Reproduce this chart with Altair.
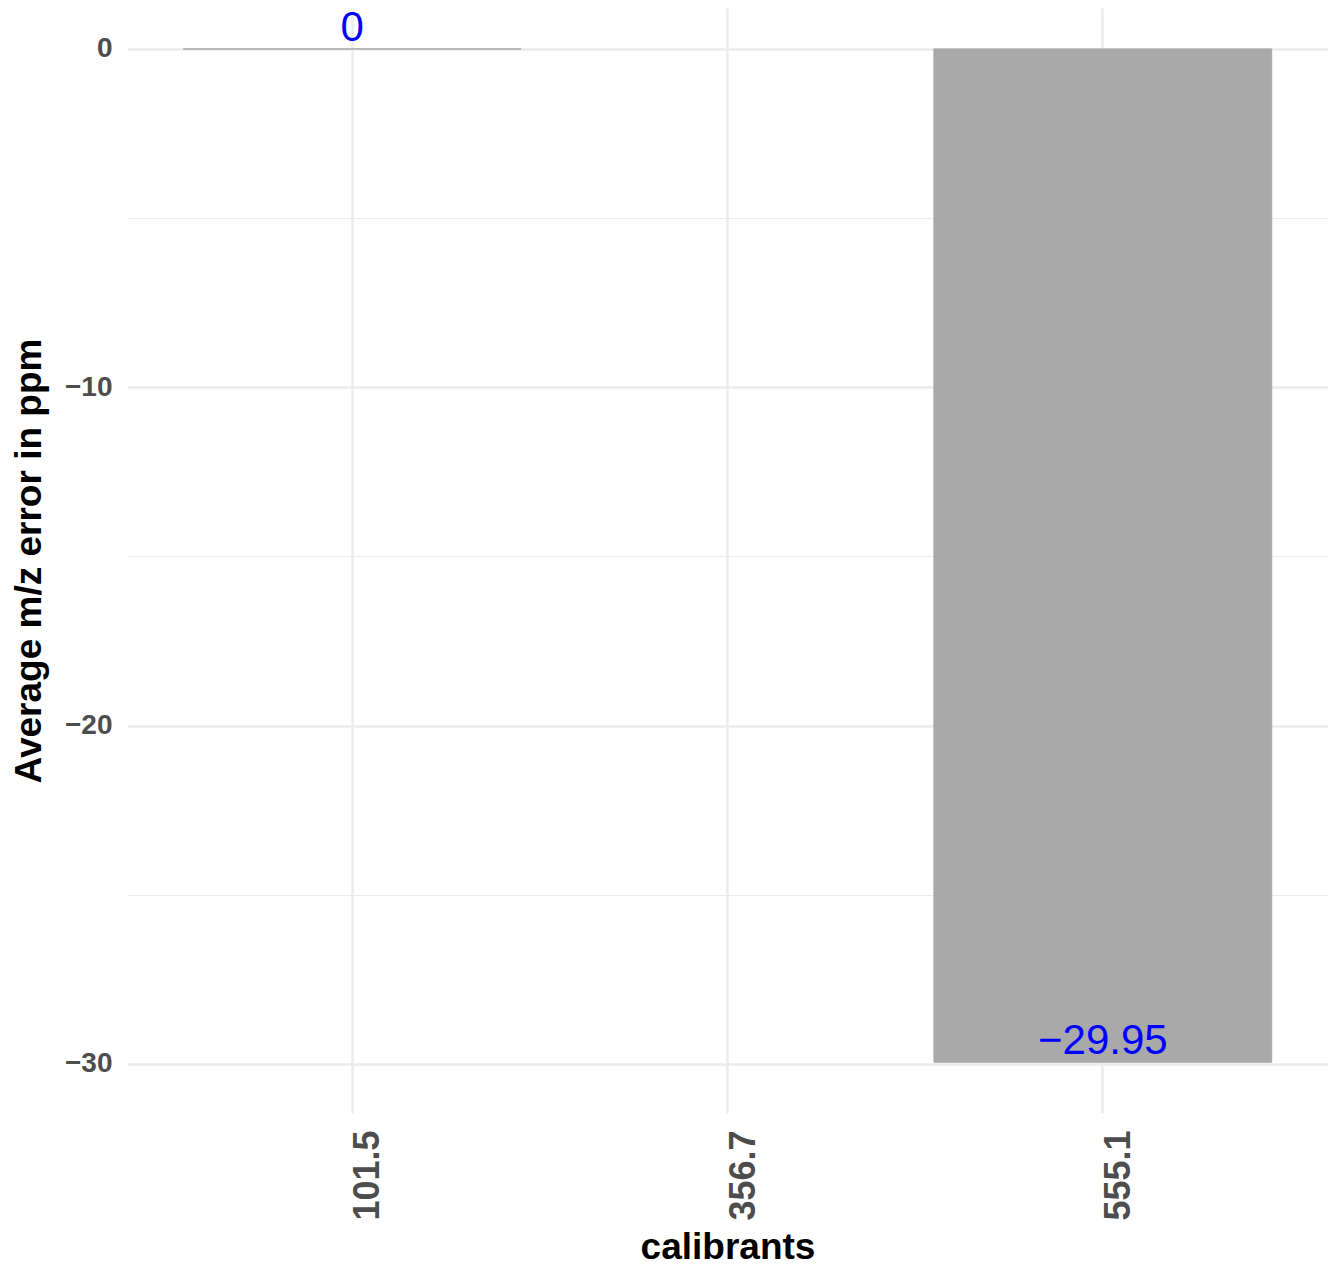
import altair as alt
import pandas as pd

calibrants = ["101.5", "356.7", "555.1"]
avg_error = [0.0, None, -29.95]
labels = ["0", None, "\u221229.95"]

df = pd.DataFrame({"calibrants": calibrants, "err": avg_error, "lab": labels})

FONT = "Liberation Sans"

x_scale = alt.Scale(domain=calibrants, paddingInner=0.1, paddingOuter=0.15)

x_enc = alt.X(
    "calibrants:N",
    scale=x_scale,
    axis=alt.Axis(
        title="calibrants",
        labelAngle=270,
        labelFontSize=36,
        labelFontWeight="bold",
        labelColor="#4D4D4D",
        labelFont=FONT,
        labelPadding=17,
        labelOffset=16,
        titleFontSize=37,
        titleFontWeight="bold",
        titleColor="#000000",
        titleFont=FONT,
        titlePadding=9,
        ticks=False,
        domain=False,
        grid=True,
        gridColor="#EBEBEB",
        gridWidth=2.4,
        bandPosition=0.5,
    ),
)

y_scale = alt.Scale(domain=[-31.45, 1.21], nice=False, zero=False)
y_axis = alt.Axis(
    title="Average m/z error in ppm",
    values=[-30, -25, -20, -15, -10, -5, 0],
    labelExpr="datum.value % 10 === 0 ? format(datum.value, 'd') : ''",
    labelFontSize=28,
    labelFontWeight="bold",
    labelColor="#4D4D4D",
    labelFont=FONT,
    labelPadding=15,
    titleFontSize=37,
    titleFontWeight="bold",
    titleColor="#000000",
    titleFont=FONT,
    titlePadding=16,
    ticks=False,
    domain=False,
    grid=True,
    gridColor="#EBEBEB",
    gridWidth={"condition": {"test": "datum.value % 10 !== 0", "value": 1.2}, "value": 2.4},
)

base = alt.Chart(df)

bars = base.mark_bar(color="#A9A9A9", stroke="#A9A9A9", strokeWidth=1).encode(
    x=x_enc,
    y=alt.Y("err:Q", scale=y_scale, axis=y_axis),
)

text = base.mark_text(
    color="#0000FF", fontSize=42, font=FONT, baseline="alphabetic", dy=-8, align="center"
).encode(
    x=alt.X("calibrants:N", scale=x_scale),
    y=alt.Y("err:Q", scale=y_scale),
    text="lab:N",
)

chart = (
    alt.layer(bars, text)
    .properties(
        width=1201,
        height=1105,
        background="#FFFFFF",
        autosize=alt.AutoSizeParams(type="none"),
        padding={"left": 119, "top": 0, "right": 5, "bottom": 158},
    )
    .configure_view(stroke="transparent", strokeWidth=0)
)

chart.save("out.html", embed_options={"renderer": "svg", "actions": False})
